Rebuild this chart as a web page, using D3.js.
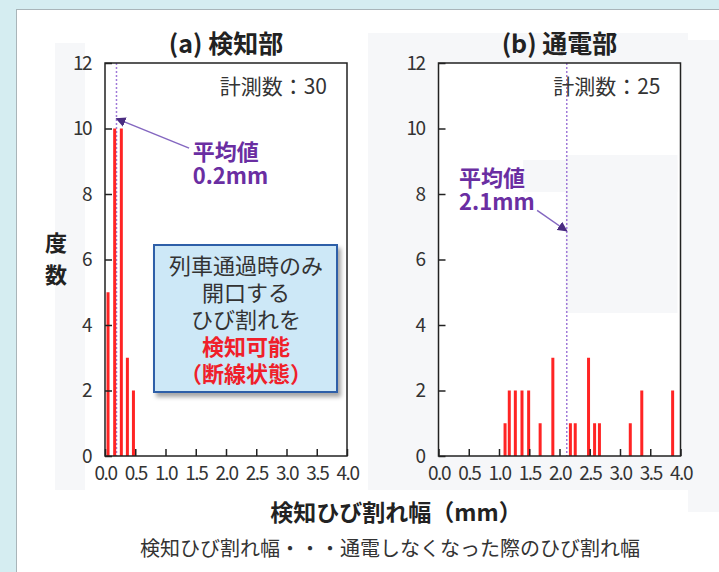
<!DOCTYPE html>
<html>
<head>
<meta charset="utf-8">
<script src="https://cdn.jsdelivr.net/npm/d3@7"></script>
<style>
  body { margin: 0; background: #d5edf1; overflow: hidden; }
  svg { display: block; font-family: "Noto Sans CJK JP", "Noto Sans", sans-serif; }
</style>
</head>
<body>
<div id="chart"></div>
<script>
// 軸の目盛
const xTicks = [0, 0.5, 1, 1.5, 2, 2.5, 3, 3.5, 4];
const yTicks = [0, 2, 4, 6, 8, 10, 12];

// パネル見出し・計測数・平均値
const panelTitles = ["(a) 検知部", "(b) 通電部"];
const sampleCounts = [30, 25];
const meanWidths = [0.19, 2.12];

// (a) 検知部 のひび割れ幅と度数
const detectWidths = [0.05, 0.16, 0.27, 0.37, 0.47];
const detectFreq = [5, 10, 10, 3, 2];

// (b) 通電部 のひび割れ幅と度数
const conductWidths = [1.10, 1.17, 1.27, 1.38, 1.49, 1.68, 1.89, 2.18, 2.26, 2.48, 2.58, 2.66, 3.17, 3.36, 3.87];
const conductFreq = [1, 2, 2, 2, 2, 1, 3, 1, 1, 3, 1, 1, 1, 2, 2];

// 吹き出しの文
const noteLines = ["列車通過時のみ", "開口する", "ひび割れを", "検知可能", "（断線状態）"];
const noteRed = [false, false, false, true, true];

const W = 719, H = 572;
const svg = d3.select("#chart").append("svg").attr("width", W).attr("height", H);

const defs = svg.append("defs");
defs.append("marker").attr("id", "arrowHead")
  .attr("viewBox", "0 0 10 10").attr("refX", 9).attr("refY", 5)
  .attr("markerWidth", 10).attr("markerHeight", 10)
  .attr("markerUnits", "userSpaceOnUse").attr("orient", "auto")
  .append("path").attr("d", "M0,0 L10,5 L0,10 Z").attr("fill", "#4a2c80");
const shadow = defs.append("filter").attr("id", "boxShadow")
  .attr("x", "-10%").attr("y", "-10%").attr("width", "130%").attr("height", "130%");
shadow.append("feDropShadow").attr("dx", 3).attr("dy", 4).attr("stdDeviation", 2)
  .attr("flood-color", "#000").attr("flood-opacity", 0.35);

// 背景の白い台紙
svg.append("rect").attr("x", 16.5).attr("y", 9.5).attr("width", W).attr("height", H)
  .attr("fill", "#ffffff").attr("stroke", "#a9b5b9");

// うっすらした灰色の面
const ghost = "#f6f7f9";
[[55, 43, 30, 447], [220, 185, 48, 62], [368, 33, 320, 457], [688, 40, 31, 472]].forEach(r => {
  svg.append("rect").attr("x", r[0]).attr("y", r[1]).attr("width", r[2]).attr("height", r[3]).attr("fill", ghost);
});

const plotTop = 63, plotH = 393, plotW = 242;
const panelLefts = [105, 438.5];
const panels = [
  { widths: detectWidths, freq: detectFreq },
  { widths: conductWidths, freq: conductFreq }
];

function drawPanel(i) {
  const left = panelLefts[i];
  const x = d3.scaleLinear().domain([0, 4]).range([left, left + plotW]);
  const y = d3.scaleLinear().domain([0, 12]).range([plotTop + plotH, plotTop]);
  const g = svg.append("g");

  g.append("rect").attr("x", left).attr("y", plotTop).attr("width", plotW).attr("height", plotH)
    .attr("fill", "#ffffff");
  if (i === 1) {
    g.append("rect").attr("x", x(1.4)).attr("y", 160).attr("width", x(3.95) - x(1.4)).attr("height", 32).attr("fill", ghost);
    g.append("rect").attr("x", x(2.1)).attr("y", 155).attr("width", x(3.95) - x(2.1)).attr("height", 158).attr("fill", ghost);
  }

  // 平均値の点線
  g.append("line")
    .attr("x1", x(meanWidths[i])).attr("x2", x(meanWidths[i]))
    .attr("y1", y(12)).attr("y2", y(0))
    .attr("stroke", "#a07ad8").attr("stroke-width", 1.5).attr("stroke-dasharray", "2,2");

  // 度数の棒
  const d = panels[i].widths.map((w, k) => ({ w, f: panels[i].freq[k] }));
  g.selectAll(".bar").data(d).enter().append("rect")
    .attr("x", v => x(v.w) - 1.5).attr("width", 3)
    .attr("y", v => y(v.f)).attr("height", v => y(0) - y(v.f))
    .attr("fill", "#ff2424");

  // 軸（内向きの目盛）
  const xAxis = g.append("g").attr("transform", `translate(0,${y(0)})`)
    .call(d3.axisBottom(x).tickValues(xTicks).tickSizeInner(-7).tickSizeOuter(0).tickPadding(11)
      .tickFormat(d3.format(".1f")));
  const yAxis = g.append("g").attr("transform", `translate(${left},0)`)
    .call(d3.axisLeft(y).tickValues(yTicks).tickSizeInner(-7).tickSizeOuter(0).tickPadding(14));
  [xAxis, yAxis].forEach(a => {
    a.select(".domain").remove();
    a.selectAll("line").attr("stroke", "#222").attr("stroke-width", 1.5);
    a.selectAll("text").attr("fill", "#333").style("font-size", "19px")
      .style("letter-spacing", "-1.5px").style("font-family", "'Noto Sans CJK JP', sans-serif");
  });
  xAxis.selectAll("text").attr("dy", "0.71em");
  g.append("rect").attr("x", left).attr("y", plotTop).attr("width", plotW).attr("height", plotH)
    .attr("fill", "none").attr("stroke", "#222").attr("stroke-width", 1.5);

  // 見出し
  g.append("text").attr("x", left + plotW / 2).attr("y", 53).attr("text-anchor", "middle")
    .attr("fill", "#222").style("font-size", "25px").style("font-weight", "bold")
    .text(panelTitles[i]);

  g.append("text").attr("x", left + plotW - 20).attr("y", 94).attr("text-anchor", "end")
    .attr("fill", "#333").style("font-size", "21px")
    .text(`計測数：${sampleCounts[i]}`);

  // 平均値の矢印とラベル
  const ann = i === 0
    ? { from: [1.39, 9.4], toY: 10.3, label: [1.45, 9.05] }
    : { from: [1.63, 7.5], toY: 6.87, label: [0.34, 8.25] };
  g.append("line")
    .attr("x1", x(ann.from[0])).attr("y1", y(ann.from[1]))
    .attr("x2", x(meanWidths[i])).attr("y2", y(ann.toY))
    .attr("stroke", "#8467c0").attr("stroke-width", 1.5).attr("marker-end", "url(#arrowHead)");
  const lab = g.append("text").attr("x", x(ann.label[0])).attr("y", y(ann.label[1]))
    .attr("fill", "#6a2ea2").style("font-size", "22px").style("font-weight", "bold");
  lab.append("tspan").attr("x", x(ann.label[0])).text("平均値");
  lab.append("tspan").attr("x", x(ann.label[0])).attr("dy", 24).text(`${meanWidths[i].toFixed(1)}mm`);
}

drawPanel(0);
drawPanel(1);

// 吹き出し
const box = svg.append("g");
box.append("rect").attr("x", 154).attr("y", 245).attr("width", 183).attr("height", 147)
  .attr("fill", "#cde8f7").attr("stroke", "#2d5ea8").attr("stroke-width", 2)
  .attr("filter", "url(#boxShadow)");
box.selectAll("text").data(noteLines).enter().append("text")
  .attr("x", 246).attr("y", (t, k) => 274 + k * 27).attr("text-anchor", "middle")
  .attr("fill", (t, k) => noteRed[k] ? "#f0202a" : "#333")
  .style("font-size", "22px").style("font-weight", (t, k) => noteRed[k] ? "bold" : "normal")
  .text(t => t);

// 縦軸の名前
svg.append("text").attr("x", 56).attr("y", 251).attr("text-anchor", "middle")
  .attr("fill", "#222").style("font-size", "22px").style("font-weight", "bold").text("度");
svg.append("text").attr("x", 56).attr("y", 283).attr("text-anchor", "middle")
  .attr("fill", "#222").style("font-size", "22px").style("font-weight", "bold").text("数");

// 横軸の名前と注記
svg.append("text").attr("x", 396).attr("y", 521).attr("text-anchor", "middle")
  .attr("fill", "#222").style("font-size", "23px").style("font-weight", "bold")
  .text("検知ひび割れ幅（mm）");
svg.append("text").attr("x", 390).attr("y", 556).attr("text-anchor", "middle")
  .attr("fill", "#333").style("font-size", "20px")
  .text("検知ひび割れ幅・・・通電しなくなった際のひび割れ幅");
</script>
</body>
</html>
